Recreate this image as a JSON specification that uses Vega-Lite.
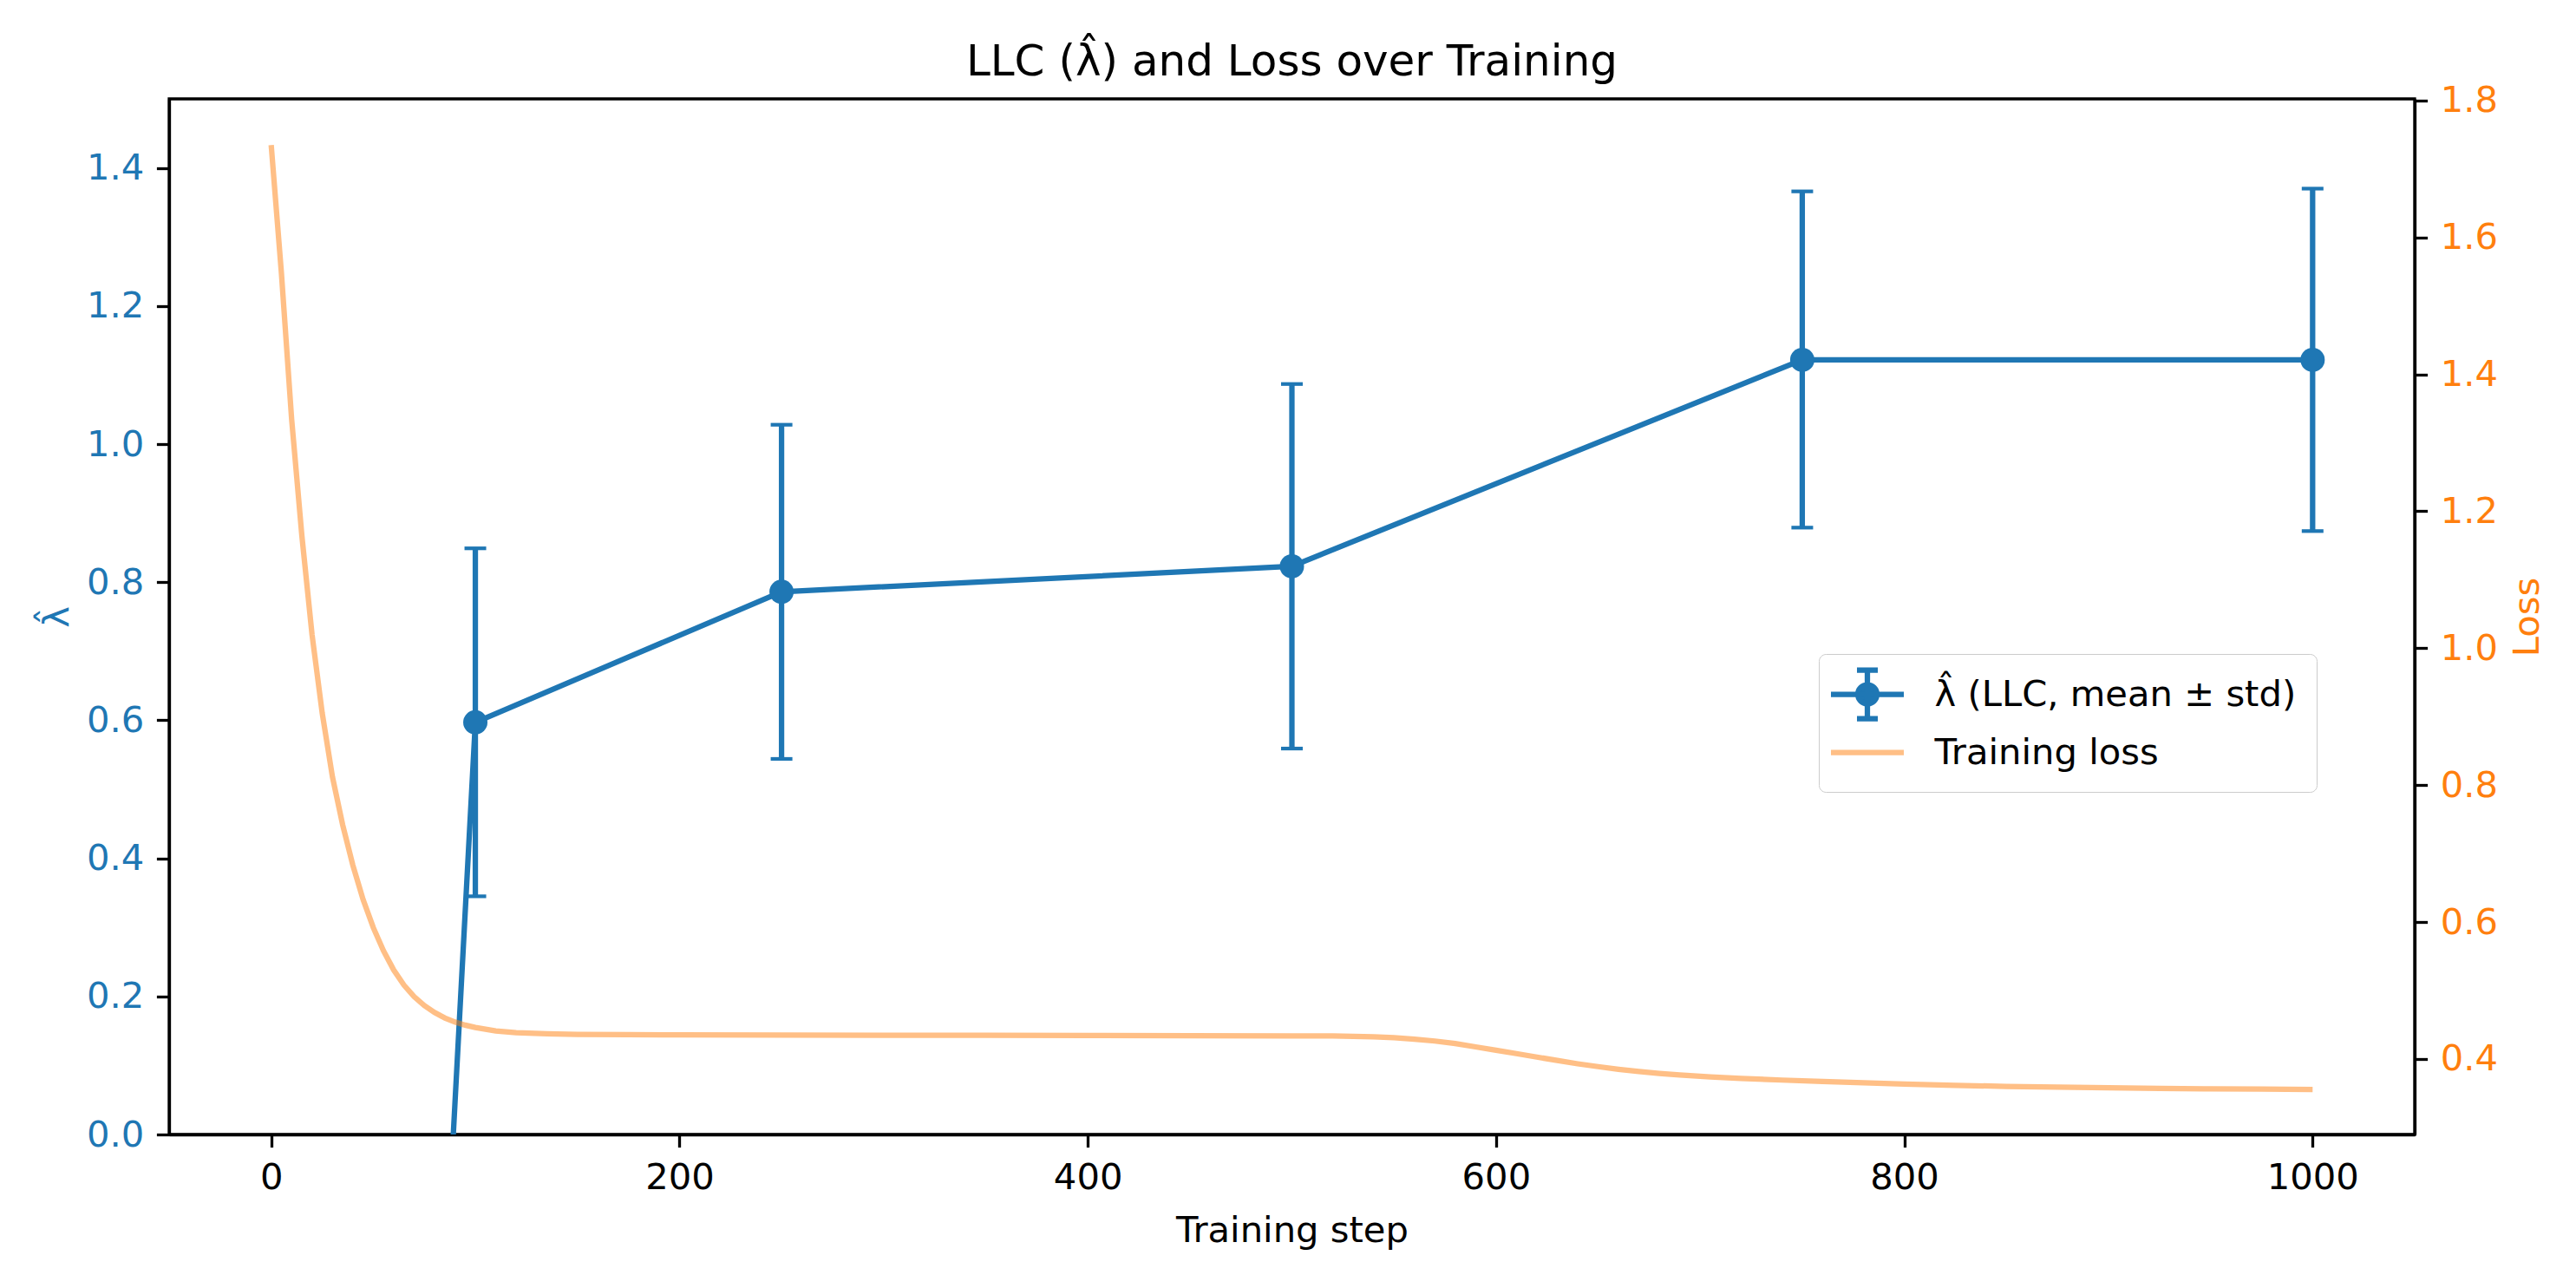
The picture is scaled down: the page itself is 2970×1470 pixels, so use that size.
{
  "$schema": "https://vega.github.io/schema/vega-lite/v6.json",
  "width": 2589,
  "height": 1194,
  "autosize": {"type": "none"},
  "padding": {"left": 195, "top": 114, "right": 186, "bottom": 162},
  "background": "white",
  "config": {
    "font": "DejaVu Sans",
    "view": {"stroke": "black", "strokeWidth": 3.3},
    "axis": {
      "grid": false,
      "domain": true,
      "domainColor": "black",
      "domainWidth": 3.3,
      "tickColor": "black",
      "tickWidth": 3.3,
      "tickSize": 14.6,
      "labelFontSize": 41.7,
      "titleFontSize": 41.7,
      "labelFont": "DejaVu Sans",
      "titleFont": "DejaVu Sans",
      "titleFontWeight": "normal",
      "labelPadding": 14.6,
      "labelColor": "black",
      "titleColor": "black"
    },
    "axisLeft": {"labelColor": "#1f77b4", "titleColor": "#1f77b4", "titlePadding": 12},
    "axisRight": {"labelColor": "#ff7f0e", "titleColor": "#ff7f0e", "titlePadding": 14, "titleAngle": 270, "titleBaseline": "top"},
    "axisBottom": {"titlePadding": 20}
  },
  "title": {
    "text": "LLC (λ̂) and Loss over Training",
    "fontSize": 50,
    "fontWeight": "normal",
    "font": "DejaVu Sans",
    "anchor": "middle",
    "offset": 25,
    "dy": 66,
    "baseline": "alphabetic",
    "color": "black"
  },
  "datasets": {
    "llc": [
      {"step": 0, "mean": -4.93, "lo": -5.18, "hi": -4.68, "series": "λ̂ (LLC, mean ± std)"},
      {"step": 100, "mean": 0.597, "lo": 0.345, "hi": 0.849, "series": "λ̂ (LLC, mean ± std)"},
      {"step": 250, "mean": 0.786, "lo": 0.544, "hi": 1.028, "series": "λ̂ (LLC, mean ± std)"},
      {"step": 500, "mean": 0.823, "lo": 0.559, "hi": 1.087, "series": "λ̂ (LLC, mean ± std)"},
      {"step": 750, "mean": 1.122, "lo": 0.879, "hi": 1.366, "series": "λ̂ (LLC, mean ± std)"},
      {"step": 1000, "mean": 1.122, "lo": 0.874, "hi": 1.370, "series": "λ̂ (LLC, mean ± std)"}
    ],
    "loss": [
      {"step": 0, "loss": 1.735},
      {"step": 5, "loss": 1.548},
      {"step": 10, "loss": 1.335},
      {"step": 15, "loss": 1.165},
      {"step": 20, "loss": 1.02},
      {"step": 25, "loss": 0.905},
      {"step": 30, "loss": 0.812},
      {"step": 35, "loss": 0.742},
      {"step": 40, "loss": 0.683},
      {"step": 45, "loss": 0.633},
      {"step": 50, "loss": 0.592},
      {"step": 55, "loss": 0.558},
      {"step": 60, "loss": 0.530},
      {"step": 65, "loss": 0.508},
      {"step": 70, "loss": 0.491},
      {"step": 75, "loss": 0.478},
      {"step": 80, "loss": 0.468},
      {"step": 85, "loss": 0.460},
      {"step": 90, "loss": 0.454},
      {"step": 95, "loss": 0.4495},
      {"step": 100, "loss": 0.446},
      {"step": 110, "loss": 0.441},
      {"step": 120, "loss": 0.4385},
      {"step": 135, "loss": 0.4368},
      {"step": 150, "loss": 0.4360},
      {"step": 175, "loss": 0.4354},
      {"step": 200, "loss": 0.4351},
      {"step": 250, "loss": 0.4349},
      {"step": 300, "loss": 0.4347},
      {"step": 350, "loss": 0.4345},
      {"step": 400, "loss": 0.4343},
      {"step": 450, "loss": 0.4341},
      {"step": 500, "loss": 0.4338},
      {"step": 520, "loss": 0.4335},
      {"step": 530, "loss": 0.4331},
      {"step": 540, "loss": 0.4324},
      {"step": 550, "loss": 0.4310},
      {"step": 560, "loss": 0.4290},
      {"step": 570, "loss": 0.4262},
      {"step": 580, "loss": 0.4225},
      {"step": 590, "loss": 0.4177},
      {"step": 600, "loss": 0.4128},
      {"step": 610, "loss": 0.4078},
      {"step": 620, "loss": 0.4028},
      {"step": 630, "loss": 0.3978},
      {"step": 640, "loss": 0.3930},
      {"step": 650, "loss": 0.3888},
      {"step": 660, "loss": 0.3850},
      {"step": 670, "loss": 0.3817},
      {"step": 680, "loss": 0.3789},
      {"step": 690, "loss": 0.3765},
      {"step": 705, "loss": 0.3737},
      {"step": 720, "loss": 0.3715},
      {"step": 740, "loss": 0.3692},
      {"step": 760, "loss": 0.3672},
      {"step": 780, "loss": 0.3652},
      {"step": 800, "loss": 0.3632},
      {"step": 825, "loss": 0.3614},
      {"step": 850, "loss": 0.3600},
      {"step": 875, "loss": 0.3588},
      {"step": 900, "loss": 0.3578},
      {"step": 925, "loss": 0.3570},
      {"step": 950, "loss": 0.3564},
      {"step": 975, "loss": 0.3559},
      {"step": 1000, "loss": 0.3555}
    ]
  },
  "encoding": {
    "x": {
      "field": "step",
      "type": "quantitative",
      "scale": {"domain": [-50, 1050], "nice": false, "zero": false},
      "axis": {"values": [0, 200, 400, 600, 800, 1000], "format": "d", "title": "Training step"}
    }
  },
  "layer": [
    {
      "data": {"name": "llc"},
      "layer": [
        {
          "mark": {"type": "rule", "color": "#1f77b4", "strokeWidth": 6.25, "clip": true},
          "encoding": {
            "y": {"field": "lo", "type": "quantitative", "scale": {"domain": [0, 1.5], "nice": false, "zero": false}, "axis": {"values": [0, 0.2, 0.4, 0.6, 0.8, 1.0, 1.2, 1.4], "format": ".1f", "title": "λ̂"}},
            "y2": {"field": "hi"}
          }
        },
        {
          "mark": {"type": "tick", "orient": "horizontal", "color": "#1f77b4", "size": 25, "thickness": 4.2, "clip": true, "opacity": 1},
          "encoding": {
            "y": {"field": "lo", "type": "quantitative", "scale": {"domain": [0, 1.5], "nice": false, "zero": false}, "axis": {"values": [0, 0.2, 0.4, 0.6, 0.8, 1.0, 1.2, 1.4], "format": ".1f", "title": "λ̂"}}
          }
        },
        {
          "mark": {"type": "tick", "orient": "horizontal", "color": "#1f77b4", "size": 25, "thickness": 4.2, "clip": true, "opacity": 1},
          "encoding": {
            "y": {"field": "hi", "type": "quantitative", "scale": {"domain": [0, 1.5], "nice": false, "zero": false}, "axis": {"values": [0, 0.2, 0.4, 0.6, 0.8, 1.0, 1.2, 1.4], "format": ".1f", "title": "λ̂"}}
          }
        },
        {
          "mark": {"type": "line", "color": "#1f77b4", "strokeWidth": 6.25, "clip": true},
          "encoding": {
            "y": {"field": "mean", "type": "quantitative", "scale": {"domain": [0, 1.5], "nice": false, "zero": false}, "axis": {"values": [0, 0.2, 0.4, 0.6, 0.8, 1.0, 1.2, 1.4], "format": ".1f", "title": "λ̂"}}
          }
        },
        {
          "mark": {"type": "point", "shape": "circle", "filled": true, "color": "#1f77b4", "opacity": 1, "size": 784, "clip": true},
          "encoding": {
            "y": {"field": "mean", "type": "quantitative", "scale": {"domain": [0, 1.5], "nice": false, "zero": false}, "axis": {"values": [0, 0.2, 0.4, 0.6, 0.8, 1.0, 1.2, 1.4], "format": ".1f", "title": "λ̂"}}
          }
        },
        {
          "transform": [{"filter": "datum.step == 0"}],
          "mark": {"type": "point", "opacity": 1, "size": 1600, "strokeWidth": 6.25, "clip": true},
          "encoding": {
            "y": {"field": "mean", "type": "quantitative", "scale": {"domain": [0, 1.5], "nice": false, "zero": false}, "axis": {"values": [0, 0.2, 0.4, 0.6, 0.8, 1.0, 1.2, 1.4], "format": ".1f", "title": "λ̂"}},
            "fill": {
              "field": "series",
              "type": "nominal",
              "scale": {"domain": ["λ̂ (LLC, mean ± std)", "Training loss"], "range": ["#1f77b4", "#ffbf86"]},
              "legend": {
                "title": null,
                "orient": "none",
                "legendX": 1902,
                "legendY": 640,
                "padding": 23,
                "symbolOffset": 9.5,
                "labelOffset": 54,
                "rowPadding": 3,
                "labelFontSize": 41.7,
                "labelFont": "DejaVu Sans",
                "labelColor": "black",
                "labelLimit": 2000,
                "symbolSize": 1600,
                "symbolStrokeWidth": 6.25,
                "fillColor": "rgba(255,255,255,0.8)",
                "strokeColor": "#cccccc",
                "cornerRadius": 8,
                "encode": {"legend": {"update": {"strokeWidth": {"value": 3.3}}}}
              }
            },
            "stroke": {
              "field": "series",
              "type": "nominal",
              "scale": {"domain": ["λ̂ (LLC, mean ± std)", "Training loss"], "range": ["#1f77b4", "#ffbf86"]},
              "legend": {
                "title": null,
                "orient": "none",
                "legendX": 1902,
                "legendY": 640,
                "padding": 23,
                "symbolOffset": 9.5,
                "labelOffset": 54,
                "rowPadding": 3,
                "labelFontSize": 41.7,
                "labelFont": "DejaVu Sans",
                "labelColor": "black",
                "labelLimit": 2000,
                "symbolSize": 1600,
                "symbolStrokeWidth": 6.25,
                "fillColor": "rgba(255,255,255,0.8)",
                "strokeColor": "#cccccc",
                "cornerRadius": 8,
                "encode": {"legend": {"update": {"strokeWidth": {"value": 3.3}}}}
              }
            },
            "shape": {
              "field": "series",
              "type": "nominal",
              "scale": {
                "domain": ["λ̂ (LLC, mean ± std)", "Training loss"],
                "range": [
                  "M-2.1,0H2.1M0,-1.4V1.4M-0.6,-1.4H0.6M-0.6,1.4H0.6M0.55,0A0.55,0.55,0,1,1,-0.55,0A0.55,0.55,0,1,1,0.55,0Z",
                  "M-2.1,0H2.1"
                ]
              },
              "legend": {
                "title": null,
                "orient": "none",
                "legendX": 1902,
                "legendY": 640,
                "padding": 23,
                "symbolOffset": 9.5,
                "labelOffset": 54,
                "rowPadding": 3,
                "labelFontSize": 41.7,
                "labelFont": "DejaVu Sans",
                "labelColor": "black",
                "labelLimit": 2000,
                "symbolSize": 1600,
                "symbolStrokeWidth": 6.25,
                "fillColor": "rgba(255,255,255,0.8)",
                "strokeColor": "#cccccc",
                "cornerRadius": 8,
                "encode": {"legend": {"update": {"strokeWidth": {"value": 3.3}}}}
              }
            }
          }
        }
      ]
    },
    {
      "data": {"name": "loss"},
      "mark": {"type": "line", "color": "#ff7f0e", "opacity": 0.5, "strokeWidth": 6.25, "clip": true},
      "encoding": {
        "y": {
          "field": "loss",
          "type": "quantitative",
          "scale": {"domain": [0.2897, 1.8024], "nice": false, "zero": false},
          "axis": {"orient": "right", "values": [0.4, 0.6, 0.8, 1.0, 1.2, 1.4, 1.6, 1.8], "format": ".1f", "title": "Loss"}
        }
      }
    }
  ],
  "resolve": {"scale": {"y": "independent"}}
}
